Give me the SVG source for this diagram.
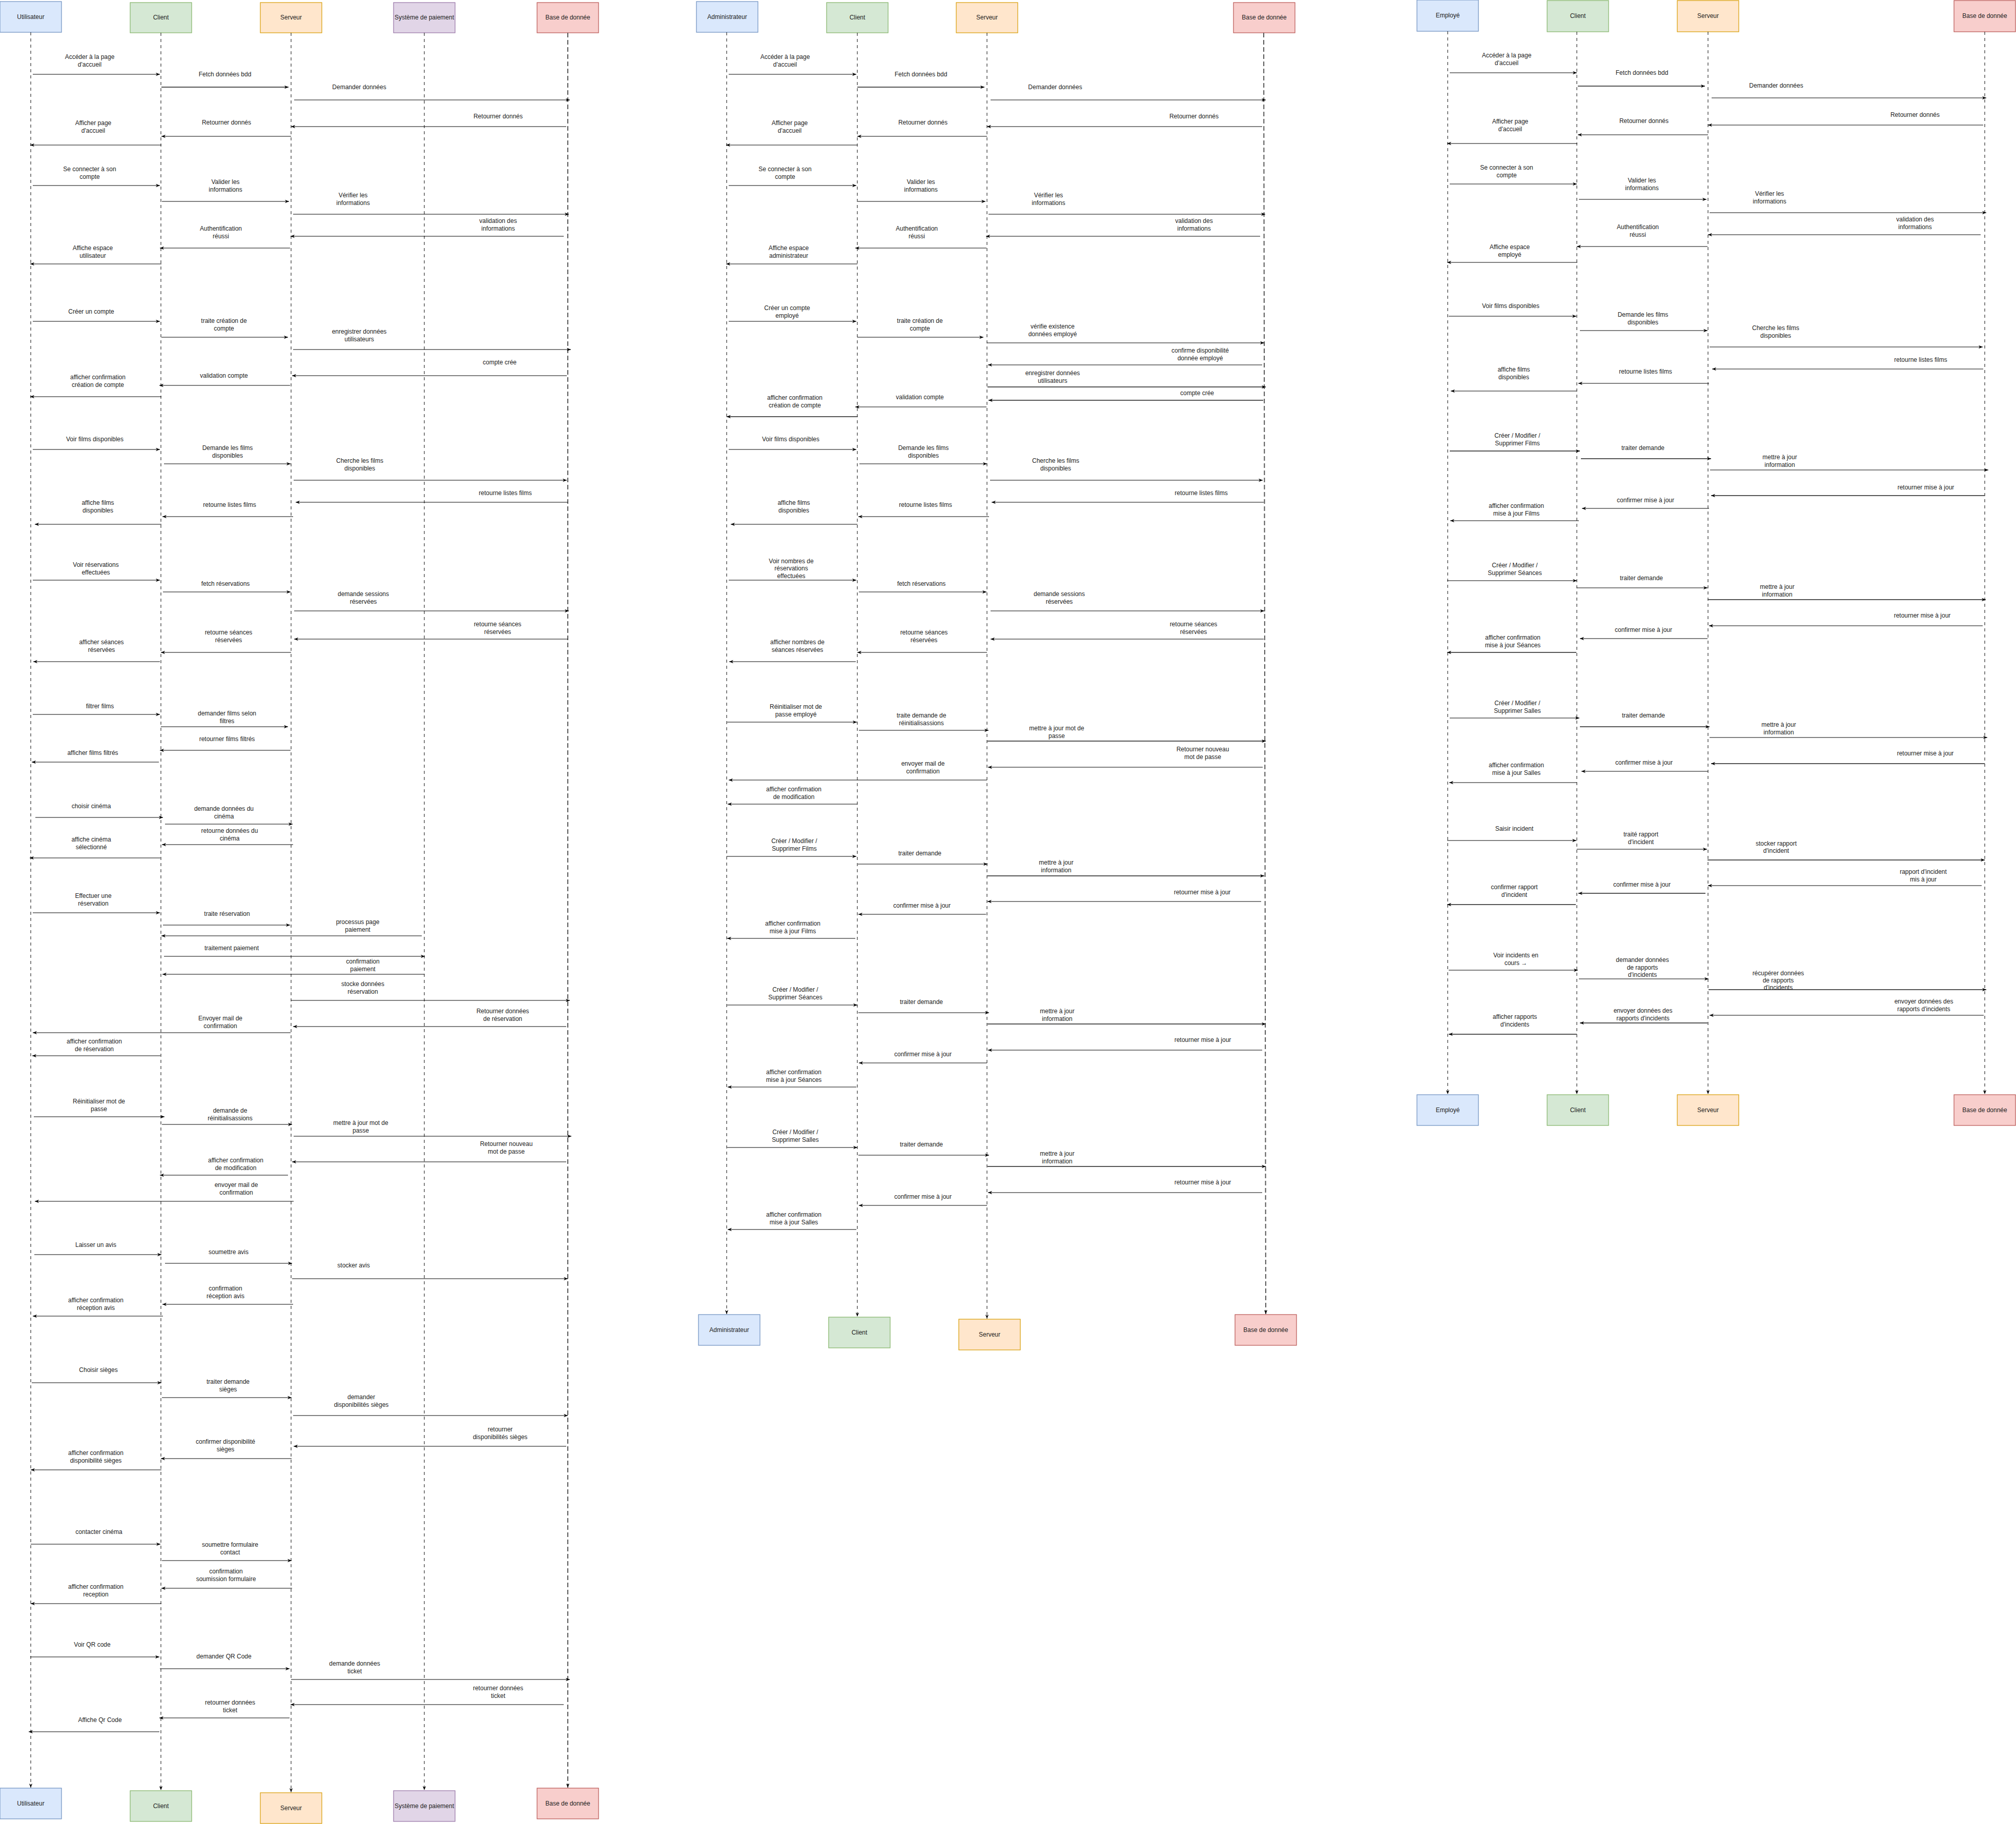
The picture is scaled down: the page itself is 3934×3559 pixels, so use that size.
<svg xmlns="http://www.w3.org/2000/svg" width="3934" height="3559" viewBox="0 0 3934 3559">
<style>
.t{font-family:"Liberation Sans",Arial,Helvetica,sans-serif;font-size:12px;fill:#222;text-anchor:middle}
.m{stroke:#000;stroke-width:1.2;fill:none;marker-end:url(#ah)}
.g{stroke:#555;stroke-width:2;fill:none;marker-end:url(#ah)}
.ll{stroke:#000;stroke-width:1;stroke-dasharray:6 6;fill:none;marker-end:url(#ah)}
.llb{stroke:#555;stroke-width:2;stroke-dasharray:9 5;fill:none;marker-end:url(#ah)}
.blue{fill:#dae8fc;stroke:#6c8ebf;stroke-width:1.2}
.green{fill:#d5e8d4;stroke:#82b366;stroke-width:1.2}
.orange{fill:#ffe6cc;stroke:#d79b00;stroke-width:1.2}
.purple{fill:#e1d5e7;stroke:#9673a6;stroke-width:1.2}
.red{fill:#f8cecc;stroke:#b85450;stroke-width:1.2}
</style>
<defs>
<marker id="ah" viewBox="0 0 10 10" refX="10" refY="5" markerWidth="8" markerHeight="8" markerUnits="userSpaceOnUse" orient="auto"><path d="M0,1 L10,5 L0,9 L3,5 Z" fill="#000"/></marker>
</defs>
<rect width="3934" height="3559" fill="#fff"/>

<!-- Diagram 1 nodes -->
<g id="d1-utilisateur-top"><rect class="blue" x="0" y="3" width="120" height="60"/><text class="t" x="60" y="37">Utilisateur</text></g>
<g id="d1-client-top"><rect class="green" x="254" y="5" width="120" height="59"/><text class="t" x="314" y="38">Client</text></g>
<g id="d1-serveur-top"><rect class="orange" x="508" y="5" width="120" height="59"/><text class="t" x="568" y="38">Serveur</text></g>
<g id="d1-paiement-top"><rect class="purple" x="768" y="5" width="120" height="59"/><text class="t" x="828" y="38">Système de paiement</text></g>
<g id="d1-bdd-top"><rect class="red" x="1048" y="5" width="120" height="59"/><text class="t" x="1108" y="38">Base de donnée</text></g>
<g id="d1-utilisateur-bottom"><rect class="blue" x="0" y="3489" width="120" height="60"/><text class="t" x="60" y="3523">Utilisateur</text></g>
<g id="d1-client-bottom"><rect class="green" x="254" y="3494" width="120" height="60"/><text class="t" x="314" y="3528">Client</text></g>
<g id="d1-serveur-bottom"><rect class="orange" x="508" y="3498" width="120" height="60"/><text class="t" x="568" y="3532">Serveur</text></g>
<g id="d1-paiement-bottom"><rect class="purple" x="768" y="3494" width="120" height="60"/><text class="t" x="828" y="3528">Système de paiement</text></g>
<g id="d1-bdd-bottom"><rect class="red" x="1048" y="3489" width="120" height="60"/><text class="t" x="1108" y="3523">Base de donnée</text></g>

<!-- Diagram 2 nodes -->
<g id="d2-admin-top"><rect class="blue" x="1359" y="3" width="120" height="60"/><text class="t" x="1419" y="37">Administrateur</text></g>
<g id="d2-client-top"><rect class="green" x="1613" y="5" width="120" height="59"/><text class="t" x="1673" y="38">Client</text></g>
<g id="d2-serveur-top"><rect class="orange" x="1866" y="5" width="120" height="59"/><text class="t" x="1926" y="38">Serveur</text></g>
<g id="d2-bdd-top"><rect class="red" x="2407" y="5" width="120" height="59"/><text class="t" x="2467" y="38">Base de donnée</text></g>
<g id="d2-admin-bottom"><rect class="blue" x="1363" y="2565" width="120" height="60"/><text class="t" x="1423" y="2599">Administrateur</text></g>
<g id="d2-client-bottom"><rect class="green" x="1617" y="2570" width="120" height="60"/><text class="t" x="1677" y="2604">Client</text></g>
<g id="d2-serveur-bottom"><rect class="orange" x="1871" y="2574" width="120" height="60"/><text class="t" x="1931" y="2608">Serveur</text></g>
<g id="d2-bdd-bottom"><rect class="red" x="2410" y="2565" width="120" height="60"/><text class="t" x="2470" y="2599">Base de donnée</text></g>

<!-- Diagram 3 nodes -->
<g id="d3-employe-top"><rect class="blue" x="2765" y="0" width="120" height="61"/><text class="t" x="2825" y="34">Employé</text></g>
<g id="d3-client-top"><rect class="green" x="3019" y="1" width="120" height="61"/><text class="t" x="3079" y="35">Client</text></g>
<g id="d3-serveur-top"><rect class="orange" x="3273" y="1" width="120" height="61"/><text class="t" x="3333" y="35">Serveur</text></g>
<g id="d3-bdd-top"><rect class="red" x="3813" y="1" width="120" height="61"/><text class="t" x="3873" y="35">Base de donnée</text></g>
<g id="d3-employe-bottom"><rect class="blue" x="2765" y="2136" width="120" height="60"/><text class="t" x="2825" y="2170">Employé</text></g>
<g id="d3-client-bottom"><rect class="green" x="3019" y="2136" width="120" height="60"/><text class="t" x="3079" y="2170">Client</text></g>
<g id="d3-serveur-bottom"><rect class="orange" x="3273" y="2136" width="120" height="60"/><text class="t" x="3333" y="2170">Serveur</text></g>
<g id="d3-bdd-bottom"><rect class="red" x="3813" y="2136" width="120" height="60"/><text class="t" x="3873" y="2170">Base de donnée</text></g>

<g id="connectors">
<!-- lifelines -->
<line class="ll" x1="60" y1="63" x2="60" y2="3488"/>
<line class="ll" x1="314" y1="64" x2="314" y2="3493"/>
<line class="ll" x1="568" y1="64" x2="568" y2="3497"/>
<line class="ll" x1="828" y1="64" x2="828" y2="3493"/>
<line class="llb" x1="1108" y1="64" x2="1108" y2="3488"/>
<line class="ll" x1="1418" y1="63" x2="1418" y2="2564"/>
<line class="ll" x1="1673" y1="64" x2="1673" y2="2569"/>
<line class="ll" x1="1926" y1="64" x2="1926" y2="2573"/>
<line class="llb" x1="2466" y1="64" x2="2470" y2="2564"/>
<line class="ll" x1="2825" y1="61" x2="2825" y2="2135"/>
<line class="ll" x1="3077" y1="62" x2="3077" y2="2135"/>
<line class="ll" x1="3333" y1="62" x2="3333" y2="2135"/>
<line class="ll" x1="3873" y1="62" x2="3873" y2="2135"/>

<!-- Diagram 1 messages -->
<line class="m" x1="64" y1="145" x2="312" y2="145"/><text class="t" x="175"><tspan x="175" y="115">Accéder à la page</tspan><tspan x="175" y="130">d'accueil</tspan></text>
<line class="g" x1="315" y1="170" x2="563" y2="170"/><text class="t" x="439" y="149">Fetch données bdd</text>
<line class="m" x1="574" y1="195" x2="1112" y2="195"/><text class="t" x="701" y="174">Demander données</text>
<line class="m" x1="1105" y1="247" x2="568" y2="247"/><text class="t" x="972" y="231">Retourner donnés</text>
<line class="m" x1="568" y1="266" x2="315" y2="266"/><text class="t" x="442" y="243">Retourner donnés</text>
<line class="m" x1="315" y1="283" x2="59" y2="283"/><text class="t" x="182"><tspan x="182" y="244">Afficher page</tspan><tspan x="182" y="259">d'accueil</tspan></text>
<line class="m" x1="64" y1="362" x2="312" y2="362"/><text class="t" x="175"><tspan x="175" y="334">Se connecter à son</tspan><tspan x="175" y="349">compte</tspan></text>
<line class="m" x1="316" y1="393" x2="564" y2="393"/><text class="t" x="440"><tspan x="440" y="359">Valider les</tspan><tspan x="440" y="374">informations</tspan></text>
<line class="m" x1="572" y1="418" x2="1110" y2="418"/><text class="t" x="689"><tspan x="689" y="385">Vérifier les</tspan><tspan x="689" y="400">informations</tspan></text>
<line class="m" x1="1100" y1="461" x2="567" y2="461"/><text class="t" x="972"><tspan x="972" y="435">validation des</tspan><tspan x="972" y="450">informations</tspan></text>
<line class="m" x1="566" y1="484" x2="312" y2="484"/><text class="t" x="431"><tspan x="431" y="450">Authentification</tspan><tspan x="431" y="465">réussi</tspan></text>
<line class="m" x1="315" y1="515" x2="59" y2="515"/><text class="t" x="181"><tspan x="181" y="488">Affiche espace</tspan><tspan x="181" y="503">utilisateur</tspan></text>
<line class="m" x1="64" y1="627" x2="312" y2="627"/><text class="t" x="178" y="612">Créer un compte</text>
<line class="m" x1="315" y1="658" x2="562" y2="658"/><text class="t" x="437"><tspan x="437" y="630">traite création de</tspan><tspan x="437" y="645">compte</tspan></text>
<line class="m" x1="572" y1="682" x2="1114" y2="682"/><text class="t" x="701"><tspan x="701" y="651">enregistrer données</tspan><tspan x="701" y="666">utilisateurs</tspan></text>
<line class="m" x1="1106" y1="733" x2="570" y2="733"/><text class="t" x="975" y="711">compte crée</text>
<line class="m" x1="566" y1="752" x2="311" y2="752"/><text class="t" x="437" y="737">validation compte</text>
<line class="m" x1="315" y1="774" x2="59" y2="774"/><text class="t" x="191"><tspan x="191" y="740">afficher confirmation</tspan><tspan x="191" y="755">création de compte</tspan></text>
<line class="m" x1="64" y1="877" x2="312" y2="877"/><text class="t" x="185" y="861">Voir films disponibles</text>
<line class="m" x1="320" y1="905" x2="567" y2="905"/><text class="t" x="444"><tspan x="444" y="878">Demande les films</tspan><tspan x="444" y="893">disponibles</tspan></text>
<line class="m" x1="573" y1="937" x2="1106" y2="937"/><text class="t" x="702"><tspan x="702" y="903">Cherche les films</tspan><tspan x="702" y="918">disponibles</tspan></text>
<line class="m" x1="1108" y1="980" x2="577" y2="980"/><text class="t" x="986" y="966">retourne listes films</text>
<line class="m" x1="572" y1="1008" x2="317" y2="1008"/><text class="t" x="448" y="989">retourne listes films</text>
<line class="m" x1="315" y1="1023" x2="68" y2="1023"/><text class="t" x="191"><tspan x="191" y="985">affiche films</tspan><tspan x="191" y="1000">disponibles</tspan></text>
<line class="m" x1="64" y1="1132" x2="312" y2="1132"/><text class="t" x="187"><tspan x="187" y="1106">Voir réservations</tspan><tspan x="187" y="1121">effectuées</tspan></text>
<line class="m" x1="318" y1="1155" x2="567" y2="1155"/><text class="t" x="440" y="1143">fetch réservations</text>
<line class="m" x1="574" y1="1192" x2="1110" y2="1192"/><text class="t" x="709"><tspan x="709" y="1163">demande sessions</tspan><tspan x="709" y="1178">réservées</tspan></text>
<line class="m" x1="1108" y1="1247" x2="574" y2="1247"/><text class="t" x="971"><tspan x="971" y="1222">retourne séances</tspan><tspan x="971" y="1237">réservées</tspan></text>
<line class="m" x1="568" y1="1273" x2="314" y2="1273"/><text class="t" x="446"><tspan x="446" y="1238">retourne séances</tspan><tspan x="446" y="1253">réservées</tspan></text>
<line class="m" x1="312" y1="1291" x2="65" y2="1291"/><text class="t" x="198"><tspan x="198" y="1257">afficher séances</tspan><tspan x="198" y="1272">réservées</tspan></text>
<line class="m" x1="64" y1="1394" x2="312" y2="1394"/><text class="t" x="195" y="1382">filtrer films</text>
<line class="m" x1="314" y1="1418" x2="562" y2="1418"/><text class="t" x="443"><tspan x="443" y="1396">demander films selon</tspan><tspan x="443" y="1411">filtres</tspan></text>
<line class="m" x1="567" y1="1464" x2="312" y2="1464"/><text class="t" x="443" y="1446">retourner films filtrés</text>
<line class="m" x1="310" y1="1487" x2="62" y2="1487"/><text class="t" x="181" y="1473">afficher films filtrés</text>
<line class="m" x1="69" y1="1595" x2="318" y2="1595"/><text class="t" x="178" y="1577">choisir cinéma</text>
<line class="m" x1="322" y1="1608" x2="571" y2="1608"/><text class="t" x="437"><tspan x="437" y="1582">demande données du</tspan><tspan x="437" y="1597">cinéma</tspan></text>
<line class="m" x1="572" y1="1648" x2="316" y2="1648"/><text class="t" x="448"><tspan x="448" y="1625">retourne données du</tspan><tspan x="448" y="1640">cinéma</tspan></text>
<line class="m" x1="313" y1="1674" x2="58" y2="1674"/><text class="t" x="178"><tspan x="178" y="1642">affiche cinéma</tspan><tspan x="178" y="1657">sélectionné</tspan></text>
<line class="m" x1="64" y1="1781" x2="312" y2="1781"/><text class="t" x="182"><tspan x="182" y="1752">Effectuer une</tspan><tspan x="182" y="1767">réservation</tspan></text>
<line class="m" x1="318" y1="1805" x2="566" y2="1805"/><text class="t" x="443" y="1787">traite réservation</text>
<line class="m" x1="823" y1="1826" x2="315" y2="1826"/><text class="t" x="698"><tspan x="698" y="1803">processus page</tspan><tspan x="698" y="1818">paiement</tspan></text>
<line class="m" x1="320" y1="1866" x2="829" y2="1866"/><text class="t" x="452" y="1854">traitement paiement</text>
<line class="m" x1="828" y1="1901" x2="317" y2="1901"/><text class="t" x="708"><tspan x="708" y="1880">confirmation</tspan><tspan x="708" y="1895">paiement</tspan></text>
<line class="m" x1="568" y1="1952" x2="1112" y2="1952"/><text class="t" x="708"><tspan x="708" y="1924">stocke données</tspan><tspan x="708" y="1939">réservation</tspan></text>
<line class="m" x1="1105" y1="2003" x2="572" y2="2003"/><text class="t" x="981"><tspan x="981" y="1977">Retourner données</tspan><tspan x="981" y="1992">de réservation</tspan></text>
<line class="m" x1="567" y1="2015" x2="64" y2="2015"/><text class="t" x="430"><tspan x="430" y="1991">Envoyer mail de</tspan><tspan x="430" y="2006">confirmation</tspan></text>
<line class="m" x1="313" y1="2060" x2="63" y2="2060"/><text class="t" x="184"><tspan x="184" y="2036">afficher confirmation</tspan><tspan x="184" y="2051">de réservation</tspan></text>
<line class="m" x1="66" y1="2179" x2="321" y2="2179"/><text class="t" x="193"><tspan x="193" y="2153">Réinitialiser mot de</tspan><tspan x="193" y="2168">passe</tspan></text>
<line class="m" x1="316" y1="2194" x2="570" y2="2194"/><text class="t" x="449"><tspan x="449" y="2171">demande de</tspan><tspan x="449" y="2186">réinitialisassions</tspan></text>
<line class="m" x1="573" y1="2217" x2="1115" y2="2217"/><text class="t" x="704"><tspan x="704" y="2195">mettre à jour mot de</tspan><tspan x="704" y="2210">passe</tspan></text>
<line class="m" x1="1105" y1="2267" x2="570" y2="2267"/><text class="t" x="988"><tspan x="988" y="2236">Retourner nouveau</tspan><tspan x="988" y="2251">mot de passe</tspan></text>
<line class="m" x1="562" y1="2293" x2="312" y2="2293"/><text class="t" x="460"><tspan x="460" y="2268">afficher confirmation</tspan><tspan x="460" y="2283">de modification</tspan></text>
<line class="m" x1="573" y1="2344" x2="68" y2="2344"/><text class="t" x="461"><tspan x="461" y="2316">envoyer mail de</tspan><tspan x="461" y="2331">confirmation</tspan></text>
<line class="m" x1="67" y1="2448" x2="315" y2="2448"/><text class="t" x="187" y="2433">Laisser un avis</text>
<line class="m" x1="322" y1="2465" x2="570" y2="2465"/><text class="t" x="446" y="2447">soumettre avis</text>
<line class="m" x1="570" y1="2495" x2="1108" y2="2495"/><text class="t" x="690" y="2473">stocker avis</text>
<line class="m" x1="572" y1="2545" x2="317" y2="2545"/><text class="t" x="440"><tspan x="440" y="2518">confirmation</tspan><tspan x="440" y="2533">réception avis</tspan></text>
<line class="m" x1="318" y1="2568" x2="64" y2="2568"/><text class="t" x="187"><tspan x="187" y="2541">afficher confirmation</tspan><tspan x="187" y="2556">réception avis</tspan></text>
<line class="m" x1="62" y1="2698" x2="315" y2="2698"/><text class="t" x="192" y="2677">Choisir sièges</text>
<line class="m" x1="316" y1="2727" x2="569" y2="2727"/><text class="t" x="445"><tspan x="445" y="2700">traiter demande</tspan><tspan x="445" y="2715">sièges</tspan></text>
<line class="m" x1="572" y1="2762" x2="1108" y2="2762"/><text class="t" x="705"><tspan x="705" y="2730">demander</tspan><tspan x="705" y="2745">disponibilités sièges</tspan></text>
<line class="m" x1="1105" y1="2822" x2="573" y2="2822"/><text class="t" x="976"><tspan x="976" y="2793">retourner</tspan><tspan x="976" y="2808">disponibilités sièges</tspan></text>
<line class="m" x1="569" y1="2846" x2="314" y2="2846"/><text class="t" x="440"><tspan x="440" y="2817">confirmer disponibilité</tspan><tspan x="440" y="2832">sièges</tspan></text>
<line class="m" x1="315" y1="2868" x2="60" y2="2868"/><text class="t" x="187"><tspan x="187" y="2839">afficher confirmation</tspan><tspan x="187" y="2854">disponibilité sièges</tspan></text>
<line class="m" x1="60" y1="3013" x2="313" y2="3013"/><text class="t" x="193" y="2993">contacter cinéma</text>
<line class="m" x1="316" y1="3045" x2="569" y2="3045"/><text class="t" x="449"><tspan x="449" y="3018">soumettre formulaire</tspan><tspan x="449" y="3033">contact</tspan></text>
<line class="m" x1="570" y1="3099" x2="315" y2="3099"/><text class="t" x="441"><tspan x="441" y="3070">confirmation</tspan><tspan x="441" y="3085">soumission formulaire</tspan></text>
<line class="m" x1="315" y1="3129" x2="60" y2="3129"/><text class="t" x="187"><tspan x="187" y="3100">afficher confirmation</tspan><tspan x="187" y="3115">reception</tspan></text>
<line class="m" x1="59" y1="3233" x2="311" y2="3233"/><text class="t" x="180" y="3213">Voir QR code</text>
<line class="m" x1="312" y1="3256" x2="565" y2="3256"/><text class="t" x="437" y="3236">demander QR Code</text>
<line class="m" x1="568" y1="3277" x2="1112" y2="3277"/><text class="t" x="692"><tspan x="692" y="3250">demande données</tspan><tspan x="692" y="3265">ticket</tspan></text>
<line class="m" x1="1100" y1="3326" x2="567" y2="3326"/><text class="t" x="972"><tspan x="972" y="3298">retourner données</tspan><tspan x="972" y="3313">ticket</tspan></text>
<line class="m" x1="565" y1="3352" x2="311" y2="3352"/><text class="t" x="449"><tspan x="449" y="3326">retourner données</tspan><tspan x="449" y="3341">ticket</tspan></text>
<line class="m" x1="311" y1="3379" x2="56" y2="3379"/><text class="t" x="195" y="3360">Affiche Qr Code</text>

<!-- Diagram 2 messages -->
<line class="m" x1="1422" y1="145" x2="1671" y2="145"/><text class="t" x="1532"><tspan x="1532" y="115">Accéder à la page</tspan><tspan x="1532" y="130">d'accueil</tspan></text>
<line class="g" x1="1673" y1="170" x2="1921" y2="170"/><text class="t" x="1797" y="149">Fetch données bdd</text>
<line class="m" x1="1933" y1="195" x2="2470" y2="195"/><text class="t" x="2059" y="174">Demander données</text>
<line class="m" x1="2463" y1="247" x2="1926" y2="247"/><text class="t" x="2330" y="231">Retourner donnés</text>
<line class="m" x1="1926" y1="266" x2="1673" y2="266"/><text class="t" x="1801" y="243">Retourner donnés</text>
<line class="m" x1="1673" y1="283" x2="1417" y2="283"/><text class="t" x="1541"><tspan x="1541" y="244">Afficher page</tspan><tspan x="1541" y="259">d'accueil</tspan></text>
<line class="m" x1="1422" y1="362" x2="1671" y2="362"/><text class="t" x="1532"><tspan x="1532" y="334">Se connecter à son</tspan><tspan x="1532" y="349">compte</tspan></text>
<line class="m" x1="1674" y1="393" x2="1923" y2="393"/><text class="t" x="1797"><tspan x="1797" y="359">Valider les</tspan><tspan x="1797" y="374">informations</tspan></text>
<line class="m" x1="1929" y1="418" x2="2469" y2="418"/><text class="t" x="2046"><tspan x="2046" y="385">Vérifier les</tspan><tspan x="2046" y="400">informations</tspan></text>
<line class="m" x1="2459" y1="461" x2="1924" y2="461"/><text class="t" x="2330"><tspan x="2330" y="435">validation des</tspan><tspan x="2330" y="450">informations</tspan></text>
<line class="m" x1="1925" y1="484" x2="1669" y2="484"/><text class="t" x="1789"><tspan x="1789" y="450">Authentification</tspan><tspan x="1789" y="465">réussi</tspan></text>
<line class="m" x1="1673" y1="515" x2="1417" y2="515"/><text class="t" x="1539"><tspan x="1539" y="488">Affiche espace</tspan><tspan x="1539" y="503">administrateur</tspan></text>
<line class="m" x1="1422" y1="627" x2="1671" y2="627"/><text class="t" x="1536"><tspan x="1536" y="605">Créer un compte</tspan><tspan x="1536" y="620">employé</tspan></text>
<line class="m" x1="1673" y1="658" x2="1919" y2="658"/><text class="t" x="1795"><tspan x="1795" y="630">traite création de</tspan><tspan x="1795" y="645">compte</tspan></text>
<line class="m" x1="1926" y1="669" x2="2467" y2="669"/><text class="t" x="2054"><tspan x="2054" y="641">vérifie existence</tspan><tspan x="2054" y="656">données employé</tspan></text>
<line class="m" x1="2463" y1="712" x2="1928" y2="712"/><text class="t" x="2342"><tspan x="2342" y="688">confirme disponibilité</tspan><tspan x="2342" y="703">donnée employé</tspan></text>
<line class="g" x1="1927" y1="755" x2="2470" y2="755"/><text class="t" x="2054"><tspan x="2054" y="732">enregistrer données</tspan><tspan x="2054" y="747">utilisateurs</tspan></text>
<line class="g" x1="2465" y1="781" x2="1929" y2="781"/><text class="t" x="2336" y="771">compte crée</text>
<line class="m" x1="1925" y1="794" x2="1669" y2="794"/><text class="t" x="1795" y="779">validation compte</text>
<line class="g" x1="1674" y1="813" x2="1418" y2="813"/><text class="t" x="1551"><tspan x="1551" y="780">afficher confirmation</tspan><tspan x="1551" y="795">création de compte</tspan></text>
<line class="m" x1="1422" y1="877" x2="1671" y2="877"/><text class="t" x="1543" y="861">Voir films disponibles</text>
<line class="m" x1="1677" y1="905" x2="1926" y2="905"/><text class="t" x="1802"><tspan x="1802" y="878">Demande les films</tspan><tspan x="1802" y="893">disponibles</tspan></text>
<line class="m" x1="1932" y1="937" x2="2464" y2="937"/><text class="t" x="2060"><tspan x="2060" y="903">Cherche les films</tspan><tspan x="2060" y="918">disponibles</tspan></text>
<line class="m" x1="2466" y1="980" x2="1935" y2="980"/><text class="t" x="2344" y="966">retourne listes films</text>
<line class="m" x1="1930" y1="1008" x2="1675" y2="1008"/><text class="t" x="1806" y="989">retourne listes films</text>
<line class="m" x1="1673" y1="1023" x2="1426" y2="1023"/><text class="t" x="1549"><tspan x="1549" y="985">affiche films</tspan><tspan x="1549" y="1000">disponibles</tspan></text>
<line class="m" x1="1422" y1="1132" x2="1671" y2="1132"/><text class="t" x="1544"><tspan x="1544" y="1099">Voir nombres de</tspan><tspan x="1544" y="1113">réservations</tspan><tspan x="1544" y="1128">effectuées</tspan></text>
<line class="m" x1="1676" y1="1155" x2="1925" y2="1155"/><text class="t" x="1798" y="1143">fetch réservations</text>
<line class="m" x1="1933" y1="1192" x2="2467" y2="1192"/><text class="t" x="2067"><tspan x="2067" y="1163">demande sessions</tspan><tspan x="2067" y="1178">réservées</tspan></text>
<line class="m" x1="2466" y1="1247" x2="1933" y2="1247"/><text class="t" x="2329"><tspan x="2329" y="1222">retourne séances</tspan><tspan x="2329" y="1237">réservées</tspan></text>
<line class="m" x1="1926" y1="1273" x2="1673" y2="1273"/><text class="t" x="1803"><tspan x="1803" y="1238">retourne séances</tspan><tspan x="1803" y="1253">réservées</tspan></text>
<line class="m" x1="1670" y1="1291" x2="1423" y2="1291"/><text class="t" x="1556"><tspan x="1556" y="1257">afficher nombres de</tspan><tspan x="1556" y="1272">séances réservées</tspan></text>
<line class="m" x1="1419" y1="1409" x2="1672" y2="1409"/><text class="t" x="1553"><tspan x="1553" y="1383">Réinitialiser mot de</tspan><tspan x="1553" y="1398">passe employé</tspan></text>
<line class="m" x1="1676" y1="1425" x2="1929" y2="1425"/><text class="t" x="1798"><tspan x="1798" y="1400">traite demande de</tspan><tspan x="1798" y="1415">réinitialisassions</tspan></text>
<line class="g" x1="1926" y1="1446" x2="2470" y2="1446"/><text class="t" x="2062"><tspan x="2062" y="1425">mettre à jour mot de</tspan><tspan x="2062" y="1440">passe</tspan></text>
<line class="m" x1="2464" y1="1497" x2="1928" y2="1497"/><text class="t" x="2347"><tspan x="2347" y="1466">Retourner nouveau</tspan><tspan x="2347" y="1481">mot de passe</tspan></text>
<line class="m" x1="1926" y1="1522" x2="1422" y2="1522"/><text class="t" x="1801"><tspan x="1801" y="1494">envoyer mail de</tspan><tspan x="1801" y="1509">confirmation</tspan></text>
<line class="m" x1="1673" y1="1569" x2="1420" y2="1569"/><text class="t" x="1549"><tspan x="1549" y="1544">afficher confirmation</tspan><tspan x="1549" y="1559">de modification</tspan></text>
<line class="m" x1="1418" y1="1671" x2="1671" y2="1671"/><text class="t" x="1550"><tspan x="1550" y="1645">Créer / Modifier /</tspan><tspan x="1550" y="1660">Supprimer Films</tspan></text>
<line class="m" x1="1674" y1="1686" x2="1927" y2="1686"/><text class="t" x="1795" y="1669">traiter demande</text>
<line class="g" x1="1926" y1="1709" x2="2467" y2="1709"/><text class="t" x="2061"><tspan x="2061" y="1687">mettre à jour</tspan><tspan x="2061" y="1702">information</tspan></text>
<line class="m" x1="2461" y1="1759" x2="1927" y2="1759"/><text class="t" x="2346" y="1745">retourner mise à jour</text>
<line class="m" x1="1924" y1="1784" x2="1675" y2="1784"/><text class="t" x="1799" y="1771">confirmer mise à jour</text>
<line class="m" x1="1669" y1="1831" x2="1419" y2="1831"/><text class="t" x="1547"><tspan x="1547" y="1806">afficher confirmation</tspan><tspan x="1547" y="1821">mise à jour Films</tspan></text>
<line class="m" x1="1419" y1="1961" x2="1673" y2="1961"/><text class="t" x="1552"><tspan x="1552" y="1935">Créer / Modifier /</tspan><tspan x="1552" y="1950">Supprimer Séances</tspan></text>
<line class="m" x1="1675" y1="1976" x2="1930" y2="1976"/><text class="t" x="1798" y="1959">traiter demande</text>
<line class="g" x1="1927" y1="1998" x2="2470" y2="1998"/><text class="t" x="2063"><tspan x="2063" y="1977">mettre à jour</tspan><tspan x="2063" y="1992">information</tspan></text>
<line class="m" x1="2463" y1="2049" x2="1928" y2="2049"/><text class="t" x="2347" y="2033">retourner mise à jour</text>
<line class="m" x1="1926" y1="2074" x2="1676" y2="2074"/><text class="t" x="1801" y="2061">confirmer mise à jour</text>
<line class="m" x1="1671" y1="2121" x2="1420" y2="2121"/><text class="t" x="1549"><tspan x="1549" y="2096">afficher confirmation</tspan><tspan x="1549" y="2111">mise à jour Séances</tspan></text>
<line class="m" x1="1419" y1="2239" x2="1673" y2="2239"/><text class="t" x="1552"><tspan x="1552" y="2213">Créer / Modifier /</tspan><tspan x="1552" y="2228">Supprimer Salles</tspan></text>
<line class="m" x1="1675" y1="2254" x2="1930" y2="2254"/><text class="t" x="1798" y="2237">traiter demande</text>
<line class="g" x1="1927" y1="2276" x2="2470" y2="2276"/><text class="t" x="2063"><tspan x="2063" y="2255">mettre à jour</tspan><tspan x="2063" y="2270">information</tspan></text>
<line class="m" x1="2463" y1="2327" x2="1928" y2="2327"/><text class="t" x="2347" y="2311">retourner mise à jour</text>
<line class="m" x1="1926" y1="2352" x2="1676" y2="2352"/><text class="t" x="1801" y="2339">confirmer mise à jour</text>
<line class="m" x1="1671" y1="2399" x2="1420" y2="2399"/><text class="t" x="1549"><tspan x="1549" y="2374">afficher confirmation</tspan><tspan x="1549" y="2389">mise à jour Salles</tspan></text>

<!-- Diagram 3 messages -->
<line class="m" x1="2829" y1="142" x2="3077" y2="142"/><text class="t" x="2940"><tspan x="2940" y="112">Accéder à la page</tspan><tspan x="2940" y="127">d'accueil</tspan></text>
<line class="g" x1="3079" y1="168" x2="3327" y2="168"/><text class="t" x="3204" y="146">Fetch données bdd</text>
<line class="m" x1="3340" y1="191" x2="3876" y2="191"/><text class="t" x="3466" y="171">Demander données</text>
<line class="m" x1="3870" y1="244" x2="3333" y2="244"/><text class="t" x="3737" y="228">Retourner donnés</text>
<line class="m" x1="3333" y1="263" x2="3079" y2="263"/><text class="t" x="3208" y="240">Retourner donnés</text>
<line class="m" x1="3078" y1="280" x2="2824" y2="280"/><text class="t" x="2947"><tspan x="2947" y="241">Afficher page</tspan><tspan x="2947" y="256">d'accueil</tspan></text>
<line class="m" x1="2829" y1="359" x2="3077" y2="359"/><text class="t" x="2940"><tspan x="2940" y="331">Se connecter à son</tspan><tspan x="2940" y="346">compte</tspan></text>
<line class="m" x1="3081" y1="389" x2="3330" y2="389"/><text class="t" x="3204"><tspan x="3204" y="356">Valider les</tspan><tspan x="3204" y="371">informations</tspan></text>
<line class="m" x1="3336" y1="415" x2="3876" y2="415"/><text class="t" x="3453"><tspan x="3453" y="382">Vérifier les</tspan><tspan x="3453" y="397">informations</tspan></text>
<line class="m" x1="3865" y1="458" x2="3333" y2="458"/><text class="t" x="3737"><tspan x="3737" y="432">validation des</tspan><tspan x="3737" y="447">informations</tspan></text>
<line class="m" x1="3332" y1="481" x2="3077" y2="481"/><text class="t" x="3196"><tspan x="3196" y="447">Authentification</tspan><tspan x="3196" y="462">réussi</tspan></text>
<line class="m" x1="3078" y1="512" x2="2824" y2="512"/><text class="t" x="2946"><tspan x="2946" y="486">Affiche espace</tspan><tspan x="2946" y="501">employé</tspan></text>
<line class="m" x1="2827" y1="617" x2="3076" y2="617"/><text class="t" x="2948" y="601">Voir films disponibles</text>
<line class="m" x1="3083" y1="645" x2="3332" y2="645"/><text class="t" x="3206"><tspan x="3206" y="618">Demande les films</tspan><tspan x="3206" y="633">disponibles</tspan></text>
<line class="m" x1="3336" y1="677" x2="3869" y2="677"/><text class="t" x="3465"><tspan x="3465" y="644">Cherche les films</tspan><tspan x="3465" y="659">disponibles</tspan></text>
<line class="m" x1="3870" y1="720" x2="3341" y2="720"/><text class="t" x="3748" y="706">retourne listes films</text>
<line class="m" x1="3335" y1="748" x2="3080" y2="748"/><text class="t" x="3211" y="729">retourne listes films</text>
<line class="m" x1="3077" y1="763" x2="2831" y2="763"/><text class="t" x="2954"><tspan x="2954" y="725">affiche films</tspan><tspan x="2954" y="740">disponibles</tspan></text>
<line class="g" x1="2829" y1="880" x2="3083" y2="880"/><text class="t" x="2961"><tspan x="2961" y="854">Créer / Modifier /</tspan><tspan x="2961" y="869">Supprimer Films</tspan></text>
<line class="g" x1="3085" y1="895" x2="3339" y2="895"/><text class="t" x="3206" y="878">traiter demande</text>
<line class="m" x1="3337" y1="917" x2="3880" y2="917"/><text class="t" x="3473"><tspan x="3473" y="896">mettre à jour</tspan><tspan x="3473" y="911">information</tspan></text>
<line class="g" x1="3873" y1="967" x2="3339" y2="967"/><text class="t" x="3758" y="955">retourner mise à jour</text>
<line class="m" x1="3335" y1="992" x2="3087" y2="992"/><text class="t" x="3211" y="980">confirmer mise à jour</text>
<line class="m" x1="3081" y1="1016" x2="2830" y2="1016"/><text class="t" x="2959"><tspan x="2959" y="991">afficher confirmation</tspan><tspan x="2959" y="1006">mise à jour Films</tspan></text>
<line class="m" x1="2824" y1="1133" x2="3077" y2="1133"/><text class="t" x="2956"><tspan x="2956" y="1107">Créer / Modifier /</tspan><tspan x="2956" y="1122">Supprimer Séances</tspan></text>
<line class="m" x1="3077" y1="1147" x2="3332" y2="1147"/><text class="t" x="3203" y="1132">traiter demande</text>
<line class="g" x1="3332" y1="1170" x2="3875" y2="1170"/><text class="t" x="3468"><tspan x="3468" y="1149">mettre à jour</tspan><tspan x="3468" y="1164">information</tspan></text>
<line class="m" x1="3869" y1="1221" x2="3335" y2="1221"/><text class="t" x="3751" y="1205">retourner mise à jour</text>
<line class="m" x1="3332" y1="1246" x2="3083" y2="1246"/><text class="t" x="3207" y="1233">confirmer mise à jour</text>
<line class="g" x1="3076" y1="1273" x2="2824" y2="1273"/><text class="t" x="2952"><tspan x="2952" y="1248">afficher confirmation</tspan><tspan x="2952" y="1263">mise à jour Séances</tspan></text>
<line class="m" x1="2829" y1="1401" x2="3082" y2="1401"/><text class="t" x="2961"><tspan x="2961" y="1376">Créer / Modifier /</tspan><tspan x="2961" y="1391">Supprimer Salles</tspan></text>
<line class="g" x1="3083" y1="1418" x2="3336" y2="1418"/><text class="t" x="3207" y="1400">traiter demande</text>
<line class="m" x1="3336" y1="1439" x2="3878" y2="1439"/><text class="t" x="3471"><tspan x="3471" y="1418">mettre à jour</tspan><tspan x="3471" y="1433">information</tspan></text>
<line class="g" x1="3873" y1="1490" x2="3339" y2="1490"/><text class="t" x="3757" y="1474">retourner mise à jour</text>
<line class="m" x1="3333" y1="1505" x2="3086" y2="1505"/><text class="t" x="3208" y="1492">confirmer mise à jour</text>
<line class="m" x1="3077" y1="1527" x2="2828" y2="1527"/><text class="t" x="2959"><tspan x="2959" y="1497">afficher confirmation</tspan><tspan x="2959" y="1512">mise à jour Salles</tspan></text>
<line class="m" x1="2824" y1="1640" x2="3076" y2="1640"/><text class="t" x="2955" y="1621">Saisir incident</text>
<line class="m" x1="3077" y1="1657" x2="3331" y2="1657"/><text class="t" x="3202"><tspan x="3202" y="1632">traité rapport</tspan><tspan x="3202" y="1647">d'incident</tspan></text>
<line class="g" x1="3332" y1="1678" x2="3873" y2="1678"/><text class="t" x="3466"><tspan x="3466" y="1650">stocker rapport</tspan><tspan x="3466" y="1664">d'incident</tspan></text>
<line class="m" x1="3867" y1="1728" x2="3333" y2="1728"/><text class="t" x="3753"><tspan x="3753" y="1705">rapport d'incident</tspan><tspan x="3753" y="1720">mis à jour</tspan></text>
<line class="g" x1="3328" y1="1743" x2="3080" y2="1743"/><text class="t" x="3204" y="1730">confirmer mise à jour</text>
<line class="g" x1="3075" y1="1765" x2="2824" y2="1765"/><text class="t" x="2955"><tspan x="2955" y="1735">confirmer rapport</tspan><tspan x="2955" y="1750">d'incident</tspan></text>
<line class="m" x1="2827" y1="1893" x2="3079" y2="1893"/><text class="t" x="2958"><tspan x="2958" y="1868">Voir incidents en</tspan><tspan x="2958" y="1883">cours →</tspan></text>
<line class="m" x1="3081" y1="1910" x2="3334" y2="1910"/><text class="t" x="3205"><tspan x="3205" y="1877">demander données</tspan><tspan x="3205" y="1892">de rapports</tspan><tspan x="3205" y="1906">d'incidents</tspan></text>
<line class="g" x1="3334" y1="1931" x2="3876" y2="1931"/><text class="t" x="3470"><tspan x="3470" y="1903">récupérer données</tspan><tspan x="3470" y="1917">de rapports</tspan><tspan x="3470" y="1931">d'incidents</tspan></text>
<line class="m" x1="3871" y1="1981" x2="3336" y2="1981"/><text class="t" x="3754"><tspan x="3754" y="1958">envoyer données des</tspan><tspan x="3754" y="1973">rapports d'incidents</tspan></text>
<line class="g" x1="3332" y1="1996" x2="3083" y2="1996"/><text class="t" x="3206"><tspan x="3206" y="1976">envoyer données des</tspan><tspan x="3206" y="1991">rapports d'incidents</tspan></text>
<line class="g" x1="3077" y1="2018" x2="2827" y2="2018"/><text class="t" x="2956"><tspan x="2956" y="1988">afficher rapports</tspan><tspan x="2956" y="2003">d'incidents</tspan></text>
</g>
</svg>
